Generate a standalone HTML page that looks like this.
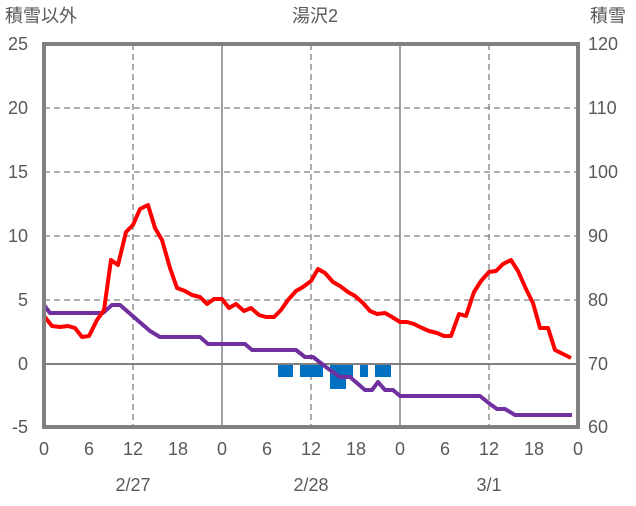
<!DOCTYPE html>
<html><head><meta charset="utf-8"><style>
body{margin:0;background:#fff}
svg text{font-family:"Liberation Sans","Noto Sans CJK JP",sans-serif;fill:#595959;font-size:18px}
</style></head><body>
<svg width="636" height="501" xmlns="http://www.w3.org/2000/svg">
<g stroke="#808080" stroke-width="1.3" stroke-dasharray="6,4">
<line x1="44" x2="578" y1="108" y2="108"/><line x1="44" x2="578" y1="172" y2="172"/>
<line x1="44" x2="578" y1="236" y2="236"/><line x1="44" x2="578" y1="300" y2="300"/>
<line x1="133" x2="133" y1="44" y2="427"/><line x1="311" x2="311" y1="44" y2="427"/><line x1="489" x2="489" y1="44" y2="427"/>
</g>
<g stroke="#808080" stroke-width="1.5">
<line x1="222" x2="222" y1="44" y2="427"/><line x1="400" x2="400" y1="44" y2="427"/>
</g>
<line x1="44" x2="578" y1="364" y2="364" stroke="#808080" stroke-width="2"/>
<g fill="#0070c0">
<rect x="278" y="365" width="15" height="12"/><rect x="300" y="365" width="23" height="12"/>
<rect x="330" y="365" width="23" height="12"/><rect x="330" y="365" width="16" height="24"/>
<rect x="360" y="365" width="8" height="12"/><rect x="375" y="365" width="16" height="12"/>
</g>
<polyline fill="none" stroke="#7030a0" stroke-width="4" stroke-linejoin="round" points="44,305 50,313 103,313 112,305 120,305 150,331 160,337 200,337 208,344 245,344 252,350 296,350 305,357 313,357 322,364 330,370 340,377 350,377 365,390 372,390 378,382 385,390 393,390 400,396 480,396 490,404 497,409 505,409 515,415 572,415"/>
<polyline fill="none" stroke="#ff0000" stroke-width="4" stroke-linejoin="round" points="44,316 52,326 60,327 68,326 75,328 82,337 89,336 97,320 104,310 111,260 118,265 126,232 133,225 140,209 148,205 155,228 162,240 170,268 177,288 185,291 192,295 200,297 207,304 214,299 222,299 229,308 236,304 244,311 251,308 259,315 266,317 274,317 281,310 288,300 296,291 303,287 311,281 318,269 325,273 333,282 340,286 348,292 355,296 363,303 370,311 377,314 385,313 392,317 400,322 407,322 414,324 422,328 429,331 437,333 444,336 451,336 459,314 466,316 474,292 481,281 489,272 496,271 503,264 511,260 518,271 526,289 533,303 540,328 548,328 555,350 563,354 571,358"/>
<polyline fill="none" stroke="#808080" stroke-width="4" points="44,427 44,44 578,44 578,427"/>
<line x1="42" x2="580" y1="427" y2="427" stroke="#808080" stroke-width="4"/>
<text x="5" y="22">積雪以外</text><text x="292" y="22">湯沢2</text><text x="590" y="22">積雪</text>
<g text-anchor="end"><text x="28" y="50">25</text><text x="28" y="114">20</text><text x="28" y="178">15</text><text x="28" y="242">10</text><text x="28" y="306">5</text><text x="28" y="370">0</text><text x="28" y="433">-5</text></g>
<g text-anchor="start"><text x="588" y="50">120</text><text x="588" y="114">110</text><text x="588" y="178">100</text><text x="588" y="242">90</text><text x="588" y="306">80</text><text x="588" y="370">70</text><text x="588" y="433">60</text></g>
<g text-anchor="middle">
<text x="44" y="455">0</text><text x="89" y="455">6</text><text x="133" y="455">12</text><text x="178" y="455">18</text>
<text x="222" y="455">0</text><text x="267" y="455">6</text><text x="311" y="455">12</text><text x="356" y="455">18</text>
<text x="400" y="455">0</text><text x="445" y="455">6</text><text x="489" y="455">12</text><text x="534" y="455">18</text><text x="578" y="455">0</text>
<text x="133" y="491">2/27</text><text x="311" y="491">2/28</text><text x="489" y="491">3/1</text>
</g>
</svg>
</body></html>
